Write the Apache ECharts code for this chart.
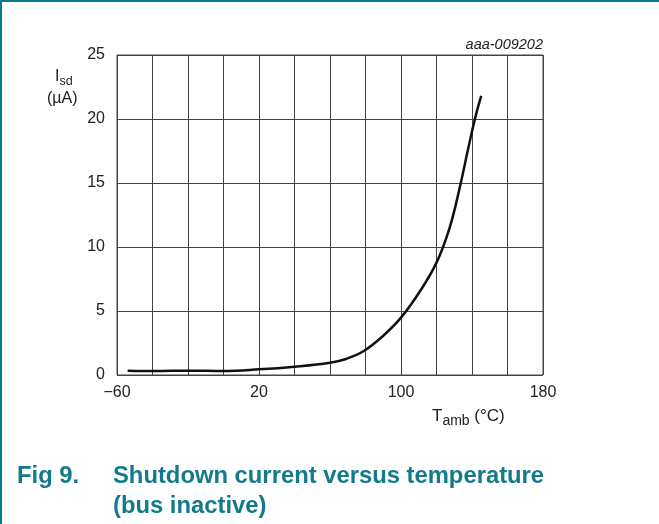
<!DOCTYPE html>
<html>
<head>
<meta charset="utf-8">
<script src="https://cdn.jsdelivr.net/npm/echarts@6/dist/echarts.min.js"></script>
<style>
html,body{margin:0;padding:0;background:#fff;}
#frame{position:absolute;left:0;top:0;width:659px;height:524px;box-sizing:border-box;border-left:2px solid #0b7a8c;border-top:2px solid #0b7a8c;}
#chart{position:absolute;left:0;top:0;width:659px;height:524px;}
</style>
</head>
<body>
<div id="frame"></div>
<div id="chart"></div>
<script>
// Data
const temperature = [-54, -39, -19, 0, 20, 40, 60, 69, 79, 90, 100, 110.5, 120, 127.3, 133, 138.5, 142.2, 145.2];
const shutdownCurrent = [0.34, 0.31, 0.34, 0.31, 0.44, 0.65, 0.96, 1.25, 1.87, 3.07, 4.48, 6.5, 8.78, 11.46, 14.58, 18.1, 20.3, 21.8];
const xTickLabels = [-60, 20, 100, 180];
const yTickLabels = [0, 5, 10, 15, 20, 25];

const chart = echarts.init(document.getElementById('chart'), null, {renderer: 'canvas'});
const teal = '#127a8c';
const font = 'Liberation Sans, Arial, sans-serif';
const ink = '#222';
const rich = {
  n: {fontSize: 16, color: ink, fontFamily: font, fontWeight: 'normal'},
  s: {fontSize: 12.5, color: ink, fontFamily: font, fontWeight: 'normal', padding: [9, 0, 0, 0]}
};
const richX = {
  n: {fontSize: 17, color: ink, fontFamily: font, fontWeight: 'normal'},
  s: {fontSize: 14, color: ink, fontFamily: font, fontWeight: 'normal', padding: [10, 0, 0, 0]}
};

chart.setOption({
  animation: false,
  backgroundColor: 'transparent',
  grid: {left: 117, top: 55, width: 426, height: 320, show: true, borderColor: '#444', borderWidth: 1},
  xAxis: {
    type: 'value', min: -60, max: 180, interval: 20,
    axisLine: {show: false}, axisTick: {show: false},
    splitLine: {show: true, lineStyle: {color: '#444', width: 1}},
    axisLabel: {
      margin: 10, color: ink, fontSize: 16, fontFamily: font,
      showMinLabel: true, showMaxLabel: true,
      formatter: v => xTickLabels.includes(v) ? (v < 0 ? '\u2212' + Math.abs(v) : String(v)) : ''
    }
  },
  yAxis: {
    type: 'value', min: 0, max: 25, interval: 5,
    axisLine: {show: false}, axisTick: {show: false},
    splitLine: {show: true, lineStyle: {color: '#444', width: 1}},
    axisLabel: {
      margin: 12, color: ink, fontSize: 16, fontFamily: font,
      formatter: v => yTickLabels.includes(v) ? String(v) : ''
    }
  },
  title: [
    {text: 'aaa-009202', right: 116, top: 37, padding: 0, textStyle: {fontSize: 14.5, fontStyle: 'italic', fontWeight: 'normal', color: ink, fontFamily: font}},
    {text: '{n|I}{s|sd}', left: 55, top: 66, padding: 0, textStyle: {rich}},
    {text: '(\u00b5A)', left: 47, top: 91, padding: 0, textStyle: {fontSize: 16, fontWeight: 'normal', color: ink, fontFamily: font}},
    {text: '{n|T}{s|amb}{n| (\u00b0C)}', left: 432, top: 404, padding: 0, textStyle: {rich: richX}},
    {text: 'Fig 9.', left: 17, top: 461, padding: 0, textStyle: {fontSize: 23.8, fontWeight: 'bold', color: teal, fontFamily: font, lineHeight: 30}},
    {text: 'Shutdown current versus temperature\n(bus inactive)', left: 113, top: 461, padding: 0, textStyle: {fontSize: 23.8, fontWeight: 'bold', color: teal, fontFamily: font, lineHeight: 30}}
  ],
  series: [{
    type: 'line', smooth: 0.4, symbol: 'none',
    lineStyle: {color: '#111', width: 2.5},
    data: temperature.map((t, i) => [t, shutdownCurrent[i]])
  }]
});
</script>
</body>
</html>
